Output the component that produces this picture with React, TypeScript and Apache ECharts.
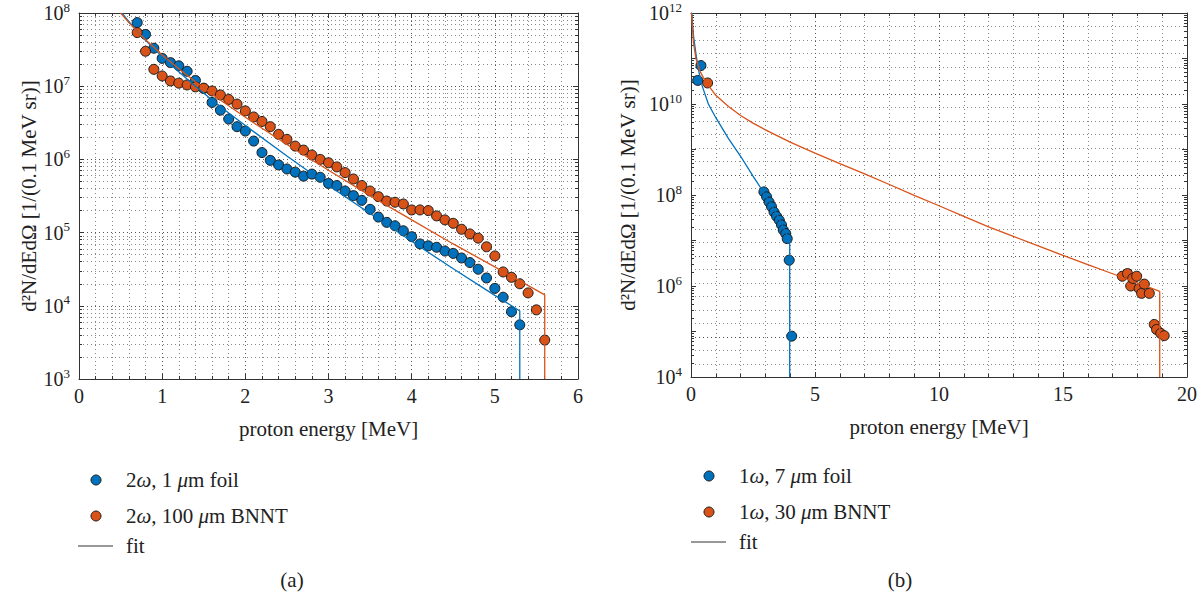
import React, { useEffect, useRef } from 'react';
import * as echarts from 'echarts';

const SERIF = '"Liberation Serif", "DejaVu Serif", serif';
const BLUE = '#0072BD';
const ORANGE = '#D95319';
const INK = '#222222';
const TXT = 21;
const TICK = 20;

// ---------- panel (a) ----------
const aFoilE = [0.7, 0.8, 0.9, 1.0, 1.1, 1.2, 1.3, 1.4, 1.5, 1.6, 1.7, 1.8, 1.9, 2.0, 2.1, 2.2, 2.3, 2.4, 2.5, 2.6, 2.7, 2.8, 2.9, 3.0, 3.1, 3.2, 3.3, 3.4, 3.5, 3.6, 3.7, 3.8, 3.9, 4.0, 4.1, 4.2, 4.3, 4.4, 4.5, 4.6, 4.7, 4.8, 4.9, 5.0, 5.1, 5.2, 5.3];
const aFoilN = [7.4e7, 5.1e7, 3.3e7, 2.4e7, 2.1e7, 1.9e7, 1.6e7, 1.2e7, 9.3e6, 6.0e6, 4.7e6, 3.56e6, 2.8e6, 2.44e6, 1.78e6, 1.24e6, 9.7e5, 8.4e5, 7.4e5, 6.7e5, 5.9e5, 6.3e5, 5.7e5, 4.7e5, 4.4e5, 3.7e5, 3.2e5, 2.76e5, 2.08e5, 1.63e5, 1.38e5, 1.24e5, 1.06e5, 8.8e4, 7.0e4, 6.6e4, 6.3e4, 5.6e4, 5.2e4, 4.5e4, 3.9e4, 3.16e4, 2.4e4, 1.73e4, 1.31e4, 8.3e3, 5.5e3];
const aBnntE = [0.7, 0.8, 0.9, 1.0, 1.1, 1.2, 1.3, 1.4, 1.5, 1.6, 1.7, 1.8, 1.9, 2.0, 2.1, 2.2, 2.3, 2.4, 2.5, 2.6, 2.7, 2.8, 2.9, 3.0, 3.1, 3.2, 3.3, 3.4, 3.5, 3.6, 3.7, 3.8, 3.9, 4.0, 4.1, 4.2, 4.3, 4.4, 4.5, 4.6, 4.7, 4.8, 4.9, 5.0, 5.1, 5.2, 5.3, 5.4, 5.5, 5.6];
const aBnntN = [5.4e7, 3.0e7, 1.7e7, 1.38e7, 1.18e7, 1.1e7, 1.04e7, 9.8e6, 9.4e6, 8.6e6, 7.6e6, 6.6e6, 5.7e6, 4.6e6, 3.8e6, 3.3e6, 2.8e6, 2.2e6, 1.88e6, 1.52e6, 1.34e6, 1.15e6, 1.0e6, 9.0e5, 7.9e5, 6.6e5, 5.4e5, 4.4e5, 3.7e5, 3.1e5, 2.7e5, 2.6e5, 2.46e5, 2.04e5, 2.04e5, 2.0e5, 1.69e5, 1.49e5, 1.34e5, 1.11e5, 9.6e4, 8.4e4, 6.4e4, 4.8e4, 2.9e4, 2.45e4, 2.0e4, 1.5e4, 8.8e3, 3.4e3];
const aFitFoilE = [0.52, 0.6, 0.7, 0.8, 0.9, 1.0, 1.2, 1.4, 1.6, 1.8, 2.0, 2.5, 3.0, 3.5, 4.0, 4.5, 5.0, 5.3, 5.3];
const aFitFoilN = [9.9e7, 7.6e7, 5.6e7, 4.25e7, 3.26e7, 2.53e7, 1.57e7, 1.0e7, 6.5e6, 4.3e6, 2.9e6, 1.11e6, 4.4e5, 1.82e5, 7.6e4, 3.2e4, 1.39e4, 8.5e3, 1e3];
const aFitBnntE = [0.5, 0.6, 0.7, 0.8, 0.9, 1.0, 1.2, 1.4, 1.6, 1.8, 2.0, 2.5, 3.0, 3.5, 4.0, 4.5, 5.0, 5.6, 5.6];
const aFitBnntN = [1.0e8, 7.4e7, 5.6e7, 4.3e7, 3.4e7, 2.67e7, 1.73e7, 1.15e7, 7.8e6, 5.4e6, 3.76e6, 1.6e6, 7.1e5, 3.2e5, 1.49e5, 7.0e4, 3.4e4, 1.41e4, 1e3];

// ---------- panel (b) ----------
const bFoilE = [0.27, 0.40, 2.94, 3.05, 3.15, 3.25, 3.35, 3.45, 3.56, 3.65, 3.72, 3.82, 3.88, 3.96, 4.06];
const bFoilN = [3.3e10, 7.0e10, 1.17e8, 9.1e7, 7.0e7, 5.5e7, 4.2e7, 3.4e7, 2.8e7, 2.2e7, 1.7e7, 1.42e7, 1.1e7, 3.7e6, 7.9e4];
const bBnntE = [0.67, 17.39, 17.6, 17.73, 17.81, 17.97, 18.07, 18.17, 18.28, 18.48, 18.68, 18.77, 18.94, 19.08];
const bBnntN = [2.9e10, 1.64e6, 1.88e6, 1.0e6, 1.47e6, 1.64e6, 8.8e5, 6.9e5, 1.1e6, 6.9e5, 1.43e5, 1.11e5, 9.1e4, 8.1e4];
const bFitFoilE = [0.03, 0.1, 0.2, 0.3, 0.45, 0.7, 1.0, 1.5, 2.0, 2.5, 3.0, 3.5, 3.98, 3.98];
const bFitFoilN = [1e12, 3.2e11, 1.26e11, 5.6e10, 2.5e10, 1.0e10, 5.0e9, 1.78e9, 7.1e8, 2.6e8, 1.0e8, 3.5e7, 1.0e7, 1e4];
const bFitBnntE = [0.02, 0.1, 0.2, 0.35, 0.5, 0.7, 1.0, 1.5, 2.0, 2.5, 3.0, 4.0, 5.0, 6.0, 7.0, 8.0, 9.0, 10.0, 11.0, 12.0, 13.0, 14.0, 15.0, 16.0, 17.0, 18.0, 18.9, 18.9];
const bFitBnntN = [1e12, 2.2e11, 1.0e11, 5.4e10, 3.8e10, 2.57e10, 1.55e10, 8.9e9, 5.6e9, 3.8e9, 2.7e9, 1.45e9, 8.3e8, 4.9e8, 2.9e8, 1.7e8, 9.8e7, 5.8e7, 3.4e7, 2.0e7, 1.23e7, 7.6e6, 4.7e6, 2.95e6, 1.86e6, 1.17e6, 7.6e5, 1e4];

const aLegend = ['2{i|ω}, 1 {i|μ}m foil', '2{i|ω}, 100 {i|μ}m BNNT', 'fit'];
const bLegend = ['1{i|ω}, 7 {i|μ}m foil', '1{i|ω}, 30 {i|μ}m BNNT', 'fit'];
const xName = 'proton energy [MeV]';
const yName = 'd²N/dEdΩ [1/(0.1 MeV sr)]';

const zip = (xs: number[], ys: number[]) => xs.map((x, i) => [x, ys[i]]);

const supRich = {
  b: { fontSize: TICK, fontFamily: SERIF, color: INK },
  s: { fontSize: 13, fontFamily: SERIF, color: INK, padding: [0, 0, 12, 0] },
};
const expLabel = (step: number) => (v: number) => {
  const e = Math.round(Math.log10(v));
  if (e % step !== 0) return '';
  return `{b|10}{s|${e}}`;
};

const dotMajor = { show: true, lineStyle: { type: [1, 3] as any, color: '#555', width: 1 } };
const dotMinor = { show: true, lineStyle: { type: [1, 3] as any, color: '#888', width: 1 } };
const axLine = { show: true, onZero: false, lineStyle: { color: '#333', width: 1 } };
const tickIn = { show: true, inside: true, length: 5, lineStyle: { color: '#333' } };
const minorIn = (n: number) => ({ show: true, splitNumber: n, length: 3, lineStyle: { color: '#333' } });
const nameStyle = { fontSize: TXT, fontFamily: SERIF, color: INK };

function xAxes(grid: number, max: number, interval: number, minorN: number) {
  return [
    {
      type: 'value', gridIndex: grid, min: 0, max, interval, position: 'bottom',
      axisLine: axLine, axisTick: tickIn, minorTick: minorIn(minorN),
      axisLabel: { fontSize: TICK, fontFamily: SERIF, color: INK, margin: 7 },
      splitLine: dotMajor, minorSplitLine: dotMinor,
      name: xName, nameLocation: 'middle', nameGap: 39, nameTextStyle: nameStyle,
    },
    {
      type: 'value', gridIndex: grid, min: 0, max, interval, position: 'top',
      axisLine: axLine, axisTick: tickIn, minorTick: minorIn(minorN),
      axisLabel: { show: false }, splitLine: { show: false },
    },
  ];
}

function yAxes(grid: number, min: number, max: number, splitN: number, step: number, showSplit: boolean, nameGap: number) {
  return [
    {
      type: 'log', logBase: 10, gridIndex: grid, min, max, splitNumber: splitN, position: 'left',
      axisLine: axLine, axisTick: tickIn, minorTick: minorIn(9),
      axisLabel: { formatter: expLabel(step), rich: supRich, margin: 9 },
      splitLine: showSplit ? dotMajor : { show: false },
      minorSplitLine: showSplit ? dotMinor : { show: false },
      name: yName, nameLocation: 'middle', nameGap, nameTextStyle: nameStyle,
    },
    {
      type: 'log', logBase: 10, gridIndex: grid, min, max, splitNumber: splitN, position: 'right',
      axisLine: axLine, axisTick: tickIn, minorTick: minorIn(9),
      axisLabel: { show: false }, splitLine: { show: false },
    },
  ];
}

function scatter(name: string, data: number[][], color: string, xi: number, yi: number) {
  return {
    type: 'scatter', name, xAxisIndex: xi, yAxisIndex: yi, data, symbol: 'circle', symbolSize: 10,
    itemStyle: { color, borderColor: '#1a1a1a', borderWidth: 1, opacity: 1 },
  };
}
function fit(name: string, data: number[][], color: string, xi: number, yi: number) {
  return {
    type: 'line', name, xAxisIndex: xi, yAxisIndex: yi, data, showSymbol: false, symbol: 'none',
    smooth: false, clip: true, lineStyle: { color, width: 1.3 },
  };
}

function legendGraphics(x0: number, y0: number, labels: string[]) {
  const textStyle = (text: string, y: number) => ({
    type: 'text', x: x0 + 48, y,
    style: {
      text, fontSize: TXT, fontFamily: SERIF, fill: INK, verticalAlign: 'middle',
      rich: { i: { fontStyle: 'italic', fontSize: TXT, fontFamily: SERIF, fill: INK } },
    },
  });
  return [
    { type: 'circle', shape: { cx: x0 + 18, cy: y0, r: 5 }, style: { fill: BLUE, stroke: '#1a1a1a', lineWidth: 1 } },
    textStyle(labels[0], y0),
    { type: 'circle', shape: { cx: x0 + 18, cy: y0 + 36, r: 5 }, style: { fill: ORANGE, stroke: '#1a1a1a', lineWidth: 1 } },
    textStyle(labels[1], y0 + 36),
    { type: 'line', shape: { x1: x0, y1: y0 + 66, x2: x0 + 35, y2: y0 + 66 }, style: { stroke: '#333', lineWidth: 1.2 } },
    textStyle(labels[2], y0 + 66),
  ];
}

export default function App() {
  const ref = useRef<HTMLDivElement>(null);
  useEffect(() => {
    if (!ref.current) return;
    const chart = echarts.init(ref.current, undefined, { renderer: 'svg' });
    const bGridH = 364;
    const option: any = {
      animation: false,
      backgroundColor: '#ffffff',
      grid: [
        { left: 79, top: 13, width: 499, height: 366 },
        { left: 691, top: 13, width: 496, height: bGridH },
      ],
      xAxis: [...xAxes(0, 6, 1, 5), ...xAxes(1, 20, 5, 5)],
      yAxis: [
        ...yAxes(0, 1e3, 1e8, 5, 1, true, 40),
        ...yAxes(1, 1e4, 1e12, 8, 2, false, 53),
        {
          type: 'value', gridIndex: 1, min: 0, max: bGridH / 40.5, interval: 2, inverse: true,
          position: 'left',
          axisLine: { show: false }, axisTick: { show: false }, axisLabel: { show: false },
          minorTick: { show: false, splitNumber: 6 },
          splitLine: dotMajor, minorSplitLine: dotMinor,
        },
      ],
      series: [
        scatter('2ω, 1 μm foil', zip(aFoilE, aFoilN), BLUE, 0, 0),
        scatter('2ω, 100 μm BNNT', zip(aBnntE, aBnntN), ORANGE, 0, 0),
        fit('fit 1 μm foil', zip(aFitFoilE, aFitFoilN), BLUE, 0, 0),
        fit('fit 100 μm BNNT', zip(aFitBnntE, aFitBnntN), ORANGE, 0, 0),
        scatter('1ω, 7 μm foil', zip(bFoilE, bFoilN), BLUE, 2, 2),
        scatter('1ω, 30 μm BNNT', zip(bBnntE, bBnntN), ORANGE, 2, 2),
        fit('fit 7 μm foil', zip(bFitFoilE, bFitFoilN), BLUE, 2, 2),
        fit('fit 30 μm BNNT', zip(bFitBnntE, bFitBnntN), ORANGE, 2, 2),
      ],
      graphic: [
        ...legendGraphics(78, 480, aLegend),
        ...legendGraphics(691, 476, bLegend),
        { type: 'text', x: 292, y: 580, style: { text: '(a)', fontSize: TXT, fontFamily: SERIF, fill: INK, align: 'center', verticalAlign: 'middle' } },
        { type: 'text', x: 900, y: 580, style: { text: '(b)', fontSize: TXT, fontFamily: SERIF, fill: INK, align: 'center', verticalAlign: 'middle' } },
      ],
    };
    chart.setOption(option);
    return () => chart.dispose();
  }, []);
  return (
    <div
      ref={ref}
      style={{ position: 'fixed', left: 0, top: 0, width: 1201, height: 595, background: '#fff' }}
    />
  );
}
